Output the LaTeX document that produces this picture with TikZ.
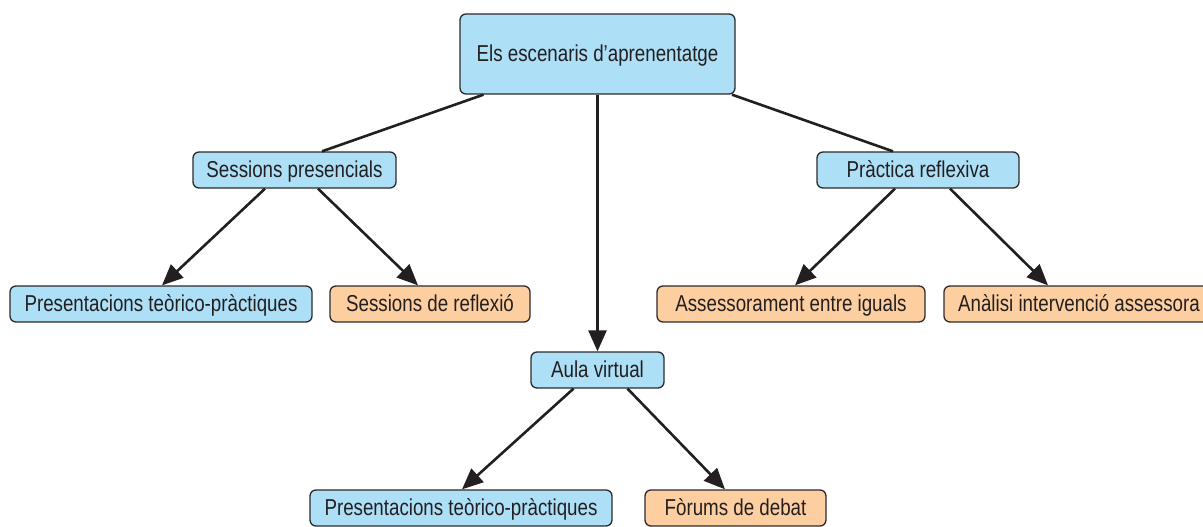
\documentclass[tikz,border=0pt]{standalone}
\usepackage{fontspec}
\setmainfont{Liberation Sans}[FakeStretch=0.815]
\usetikzlibrary{arrows.meta}
\definecolor{lblue}{RGB}{173,224,247}
\definecolor{lorange}{RGB}{253,207,160}
\definecolor{boxline}{RGB}{45,42,43}
\definecolor{txt}{RGB}{35,31,32}
\tikzset{
  box/.style={draw=boxline, line width=1.3pt, rounded corners=6pt, minimum height=36pt,
    inner sep=0pt, text=txt, font=\fontsize{23}{27}\selectfont, text height=16.5pt, text depth=2pt},
  bluebox/.style={box, fill=lblue},
  orbox/.style={box, fill=lorange},
  link/.style={draw=txt, line width=2.6pt},
  arr/.style={link, -{Triangle[length=21pt,width=18pt]}}
}
\begin{document}
\begin{tikzpicture}[x=1pt,y=-1pt]
\useasboundingbox (0,0) rectangle (1203,527);
\node[bluebox, minimum width=275pt, minimum height=80pt] (top) at (597.5,54) {Els escenaris d’aprenentatge};
\node[bluebox, minimum width=203pt] (sp) at (294.5,170) {Sessions presencials};
\node[bluebox, minimum width=202pt] (pr) at (918,170) {Pràctica reflexiva};
\node[bluebox, minimum width=302pt] (pt1) at (161,304) {Presentacions teòrico-pràctiques};
\node[orbox, minimum width=200pt] (sr) at (430,304) {Sessions de reflexió};
\node[orbox, minimum width=268pt] (ai) at (791,304) {Assessorament entre iguals};
\node[orbox, minimum width=270pt] (an) at (1079,304) {Anàlisi intervenció assessora};
\node[bluebox, minimum width=133pt] (av) at (597.5,370) {Aula virtual};
\node[bluebox, minimum width=302pt] (pt2) at (461,508) {Presentacions teòrico-pràctiques};
\node[orbox, minimum width=181pt] (fd) at (735.5,508) {Fòrums de debat};

\draw[link] ([xshift=-114pt]top.south) -- ([xshift=27.5pt]sp.north);
\draw[link] ([xshift=134.5pt]top.south) -- ([xshift=-25pt]pr.north);
\draw[arr] (top.south) -- (av.north);
\draw[arr] ([xshift=-29.5pt]sp.south) -- ([xshift=1pt]pt1.north);
\draw[arr] ([xshift=23.5pt]sp.south) -- ([xshift=-12pt]sr.north);
\draw[arr] ([xshift=-23pt]pr.south) -- ([xshift=4pt]ai.north);
\draw[arr] ([xshift=32pt]pr.south) -- ([xshift=-31pt]an.north);
\draw[arr] ([xshift=-24pt]av.south) -- ([xshift=1pt]pt2.north);
\draw[arr] ([xshift=30pt]av.south) -- ([xshift=-10.5pt]fd.north);
\end{tikzpicture}
\end{document}
